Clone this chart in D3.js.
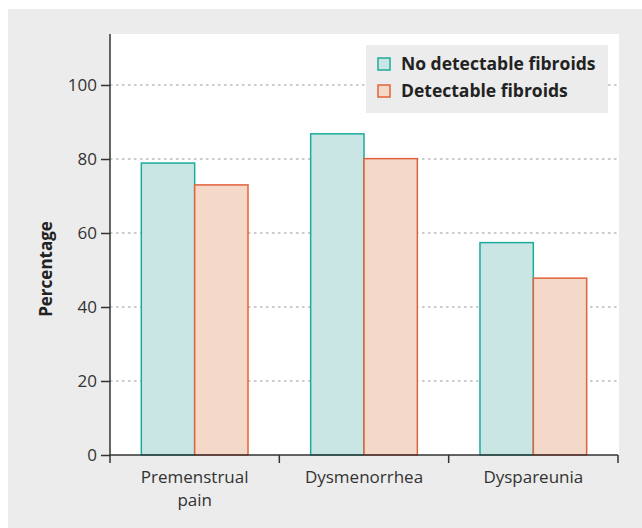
<!DOCTYPE html>
<html>
<head>
<meta charset="utf-8">
<script src="https://cdn.jsdelivr.net/npm/d3@7"></script>
<style>
  body { margin: 0; background: #fff; }
  text { font-family: "Open Sans", "Noto Sans", sans-serif; }
</style>
</head>
<body>
<div id="chart"></div>
<script>
// Data
// ============================================================================
const categories = [["Premenstrual", "pain"], ["Dysmenorrhea"], ["Dyspareunia"]];
const seriesNames = ["No detectable fibroids", "Detectable fibroids"];
const noFibroids = [78.9, 86.8, 57.4];
const withFibroids = [73.0, 80.1, 47.8];
const yTicks = [0, 20, 40, 60, 80, 100];

const W = 642, H = 528;
const plot = {left: 110, right: 618, top: 34, bottom: 455};

const fills = ["#c9e6e4", "#f5d9c8"];
const strokes = ["#1aab9c", "#e0623c"];

// SVG
// ============================================================================
const svg = d3.select("#chart").append("svg")
    .attr("width", W)
    .attr("height", H);

// gray panel + white plotting area
svg.append("rect")
    .attr("x", 8).attr("y", 9)
    .attr("width", W - 8).attr("height", H - 9)
    .attr("fill", "#ebeceb");

svg.append("rect")
    .attr("x", plot.left).attr("y", plot.top)
    .attr("width", plot.right - plot.left + 1)
    .attr("height", plot.bottom - plot.top)
    .attr("fill", "#fff");

// Scales
const yScale = d3.scaleLinear()
    .domain([0, 100])
    .range([plot.bottom, 85]);

const x0 = d3.scaleBand()
    .domain(d3.range(categories.length))
    .range([plot.left, plot.right])
    .paddingInner(0.37)
    .paddingOuter(0.185);

const x1 = d3.scaleBand()
    .domain([0, 1])
    .range([0, x0.bandwidth()]);

// Grid lines
svg.append("g")
    .selectAll("line")
    .data(yTicks.filter(d => d > 0))
    .enter()
    .append("line")
        .attr("x1", plot.left)
        .attr("x2", plot.right)
        .attr("y1", d => yScale(d))
        .attr("y2", d => yScale(d))
        .attr("stroke", "#999")
        .attr("stroke-width", 1.2)
        .style("stroke-dasharray", "2.5, 3.5");

// Bars
const rows = categories.map((c, i) => [noFibroids[i], withFibroids[i]]);
const groups = svg.append("g")
    .selectAll("g")
    .data(rows)
    .enter()
    .append("g")
        .attr("transform", (d, i) => "translate(" + x0(i) + ",0)");

groups.selectAll("rect")
    .data(d => d)
    .enter()
    .append("rect")
        .attr("x", (d, j) => x1(j))
        .attr("y", d => yScale(d))
        .attr("width", x1.bandwidth())
        .attr("height", d => plot.bottom - yScale(d))
        .attr("fill", (d, j) => fills[j])
        .attr("stroke", (d, j) => strokes[j])
        .attr("stroke-width", 1.5);

// Y axis
const yAxis = svg.append("g")
    .attr("transform", "translate(" + plot.left + ",0)")
    .call(d3.axisLeft(yScale).tickValues(yTicks).tickSize(9).tickPadding(4));
yAxis.select(".domain").remove();
yAxis.selectAll(".tick line").attr("stroke", "#333").attr("stroke-width", 1.5);
yAxis.selectAll(".tick text")
    .attr("fill", "#333")
    .style("font-size", "17px")
    .style("font-family", "'Open Sans', sans-serif");

svg.append("line")
    .attr("x1", plot.left).attr("x2", plot.left)
    .attr("y1", plot.top).attr("y2", plot.bottom + 8)
    .attr("stroke", "#333").attr("stroke-width", 1.5);

// X axis
svg.append("line")
    .attr("x1", plot.left).attr("x2", plot.right)
    .attr("y1", plot.bottom).attr("y2", plot.bottom)
    .attr("stroke", "#333").attr("stroke-width", 1.5);

const step = x0.step();
svg.append("g")
    .selectAll("line")
    .data(d3.range(1, categories.length + 1))
    .enter()
    .append("line")
        .attr("x1", i => plot.left + i * step)
        .attr("x2", i => plot.left + i * step)
        .attr("y1", plot.bottom)
        .attr("y2", plot.bottom + 8)
        .attr("stroke", "#333").attr("stroke-width", 1.5);

// Category labels
const catLabels = svg.append("g")
    .selectAll("text")
    .data(categories)
    .enter()
    .append("text")
        .attr("x", (d, i) => x0(i) + x0.bandwidth() / 2)
        .attr("y", 483)
        .attr("text-anchor", "middle")
        .attr("fill", "#333")
        .style("font-size", "17px");

catLabels.selectAll("tspan")
    .data(d => d)
    .enter()
    .append("tspan")
        .attr("x", function() { return d3.select(this.parentNode).attr("x"); })
        .attr("dy", (d, k) => k === 0 ? 0 : 23)
        .text(d => d);

// Y title
svg.append("text")
    .attr("transform", "translate(52,269) rotate(-90)")
    .attr("text-anchor", "middle")
    .attr("fill", "#222")
    .style("font-size", "17px")
    .style("font-weight", "bold")
    .text("Percentage");

// Legend
const legend = svg.append("g");
legend.append("rect")
    .attr("x", 366).attr("y", 45)
    .attr("width", 242).attr("height", 68)
    .attr("fill", "#ebeceb");

seriesNames.forEach((d, i) => {
    legend.append("rect")
        .attr("x", 378)
        .attr("y", 58 + i * 27)
        .attr("width", 12)
        .attr("height", 12)
        .attr("fill", fills[i])
        .attr("stroke", strokes[i])
        .attr("stroke-width", 1.5);

    legend.append("text")
        .attr("x", 401)
        .attr("y", 64 + i * 27)
        .attr("dy", "0.35em")
        .attr("fill", "#222")
        .style("font-size", "17.5px")
        .style("font-weight", "bold")
        .text(d);
});
</script>
</body>
</html>
